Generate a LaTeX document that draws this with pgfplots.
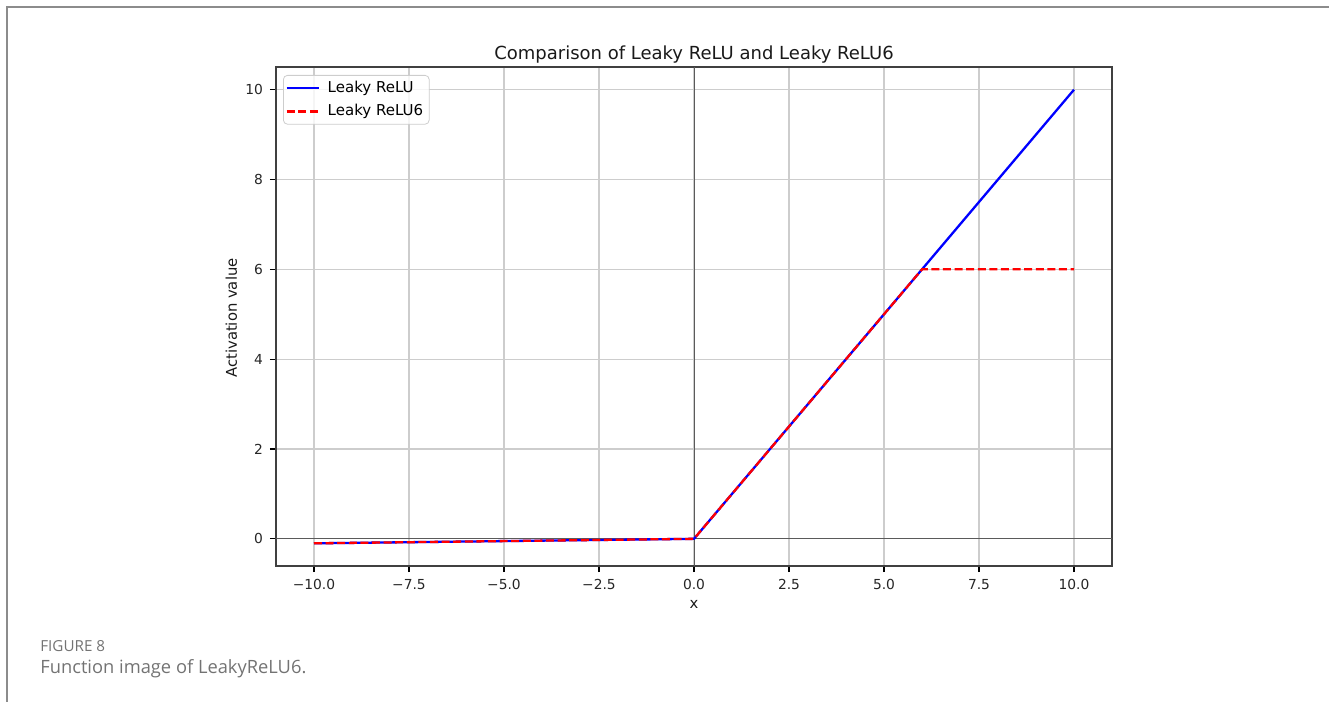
\documentclass[border=0pt]{standalone}
\usepackage{pgfplots}
\pgfplotsset{compat=1.18}
\usepackage{fontspec}
\setmainfont{DejaVu Sans}
\newfontfamily\capfont{Open Sans}
\definecolor{gridc}{RGB}{205,205,205}
\definecolor{capc}{RGB}{115,115,115}
\definecolor{framec}{RGB}{140,140,140}
\definecolor{zeroc}{RGB}{90,90,90}
\begin{document}
\begin{tikzpicture}
\useasboundingbox (0pt,0pt) rectangle (664.5pt,-351pt);
\draw[framec, line width=1pt] (3.5pt,-351pt) -- (3.5pt,-3.5pt) -- (664.5pt,-3.5pt);
\begin{axis}[
  at={(138pt,-283pt)}, anchor=south west,
  scale only axis, width=418pt, height=249.5pt,
  clip mode=individual,
  xmin=-11, xmax=11, ymin=-0.605, ymax=10.505,
  xtick={-10,-7.5,-5,-2.5,0,2.5,5,7.5,10},
  xticklabels={−10.0,−7.5,−5.0,−2.5,0.0,2.5,5.0,7.5,10.0},
  ytick={0,2,4,6,8,10},
  yticklabels={0,2,4,6,8,10},
  tick align=outside, xtick pos=bottom, ytick pos=left,
  major tick length=3pt,
  every tick/.style={black, line width=0.55pt},
  tick label style={font=\fontsize{6.9}{8}\selectfont, text=black!85},
  axis line style={black!75, line width=0.55pt},
  grid=major,
  major grid style={gridc, line width=0.55pt},
  legend style={at={(axis description cs:0.0084,0.984)}, anchor=north west,
    draw=gridc, rounded corners=2pt, fill=white, fill opacity=0.8, text opacity=1,
    font=\fontsize{7.5}{9}\selectfont, row sep=1pt, column sep=2pt,
    inner xsep=1pt, inner ysep=1pt,
    nodes={inner xsep=2pt, inner ysep=1.75pt}},
  legend cell align=left,
  legend image code/.code={\draw[#1] (1.5pt,0pt) -- (17.5pt,0pt);},
]
\draw[zeroc, line width=0.5pt] (axis cs:-11,0) -- (axis cs:11,0);
\draw[zeroc, line width=0.5pt] (axis cs:0,-0.605) -- (axis cs:0,10.505);
\addplot[blue, line width=1.15pt] coordinates {(-10,-0.1) (0,0) (10,10)};
\addlegendentry{Leaky ReLU}
\addplot[red, line width=1.15pt, dash pattern=on 4pt off 1.8pt] coordinates {(-10,-0.1) (0,0) (6,6) (10,6)};
\addlegendentry{Leaky ReLU6}
\node[anchor=base, font=\fontsize{9}{11}\selectfont, text=black!90] at ([yshift=3.75pt]rel axis cs:0.5,1) {Comparison of Leaky ReLU and Leaky ReLU6};
\node[anchor=base, font=\fontsize{7.4}{9}\selectfont, text=black!90] at ([yshift=-21pt]rel axis cs:0.5,0) {x};
\node[anchor=base, rotate=90, font=\fontsize{7.4}{9}\selectfont, text=black!90] at (rel axis cs:-0.0467,0.497) {Activation value};
\end{axis}
\node[anchor=base west, inner sep=0pt, text=capc, font=\capfont\fontsize{7.6}{9}\selectfont] at (20pt,-325.5pt) {FIGURE 8};
\node[anchor=base west, inner sep=0pt, text=capc, font=\capfont\fontsize{9.15}{11}\selectfont] at (20pt,-336.8pt) {Function image of LeakyReLU6.};
\end{tikzpicture}
\end{document}
